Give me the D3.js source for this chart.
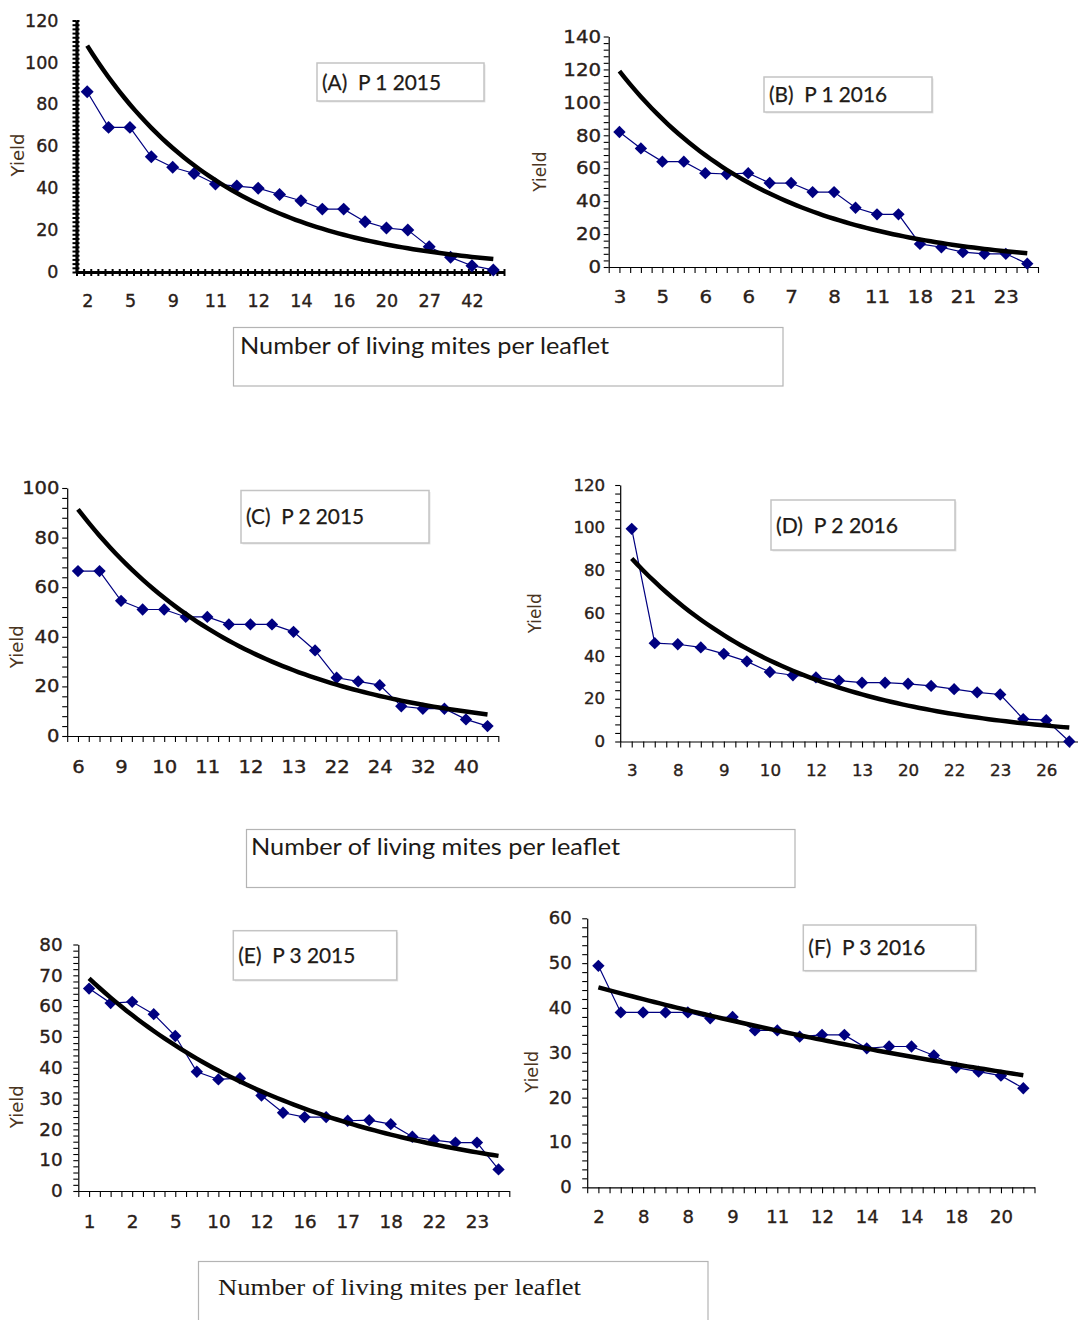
<!DOCTYPE html>
<html>
<head>
<meta charset="utf-8">
<script src="https://cdn.jsdelivr.net/npm/d3@7"></script>
<style>
  body { margin: 0; background: #fff; }
  svg { display: block; }
</style>
</head>
<body>
<div id="chart"></div>
<script>
// yield per point (left to right), shown x tick labels (every other point), trendline start/end values
var valuesA = [86, 69, 69, 55, 50, 47, 42, 41, 40, 37, 34, 30, 30, 24, 21, 20, 12, 7, 3, 1];
var labelsA = ["2", "5", "9", "11", "12", "14", "16", "20", "27", "42"];
var trendA = [108, 6.2];

var valuesB = [82, 72, 64, 64, 57, 56.5, 57, 51, 51, 45.5, 45.5, 36, 32, 32, 14, 12, 9, 8, 8, 2];
var labelsB = ["3", "5", "6", "6", "7", "8", "11", "18", "21", "23"];
var trendB = [119, 8.3];

var valuesC = [66.5, 66.5, 54.5, 51, 51, 48, 48, 45, 45, 45, 42, 34.5, 23.5, 22, 20.5, 12, 11, 11, 6.7, 4];
var labelsC = ["6", "9", "10", "11", "12", "13", "22", "24", "32", "40"];
var trendC = [91.4, 8.7];

var valuesD = [99.5, 46, 45.5, 44, 41, 37.5, 32.5, 31, 30, 28.5, 27.5, 27.5, 27, 26, 24.5, 23, 22, 10.5, 10, 0];
var labelsD = ["3", "8", "9", "10", "12", "13", "20", "22", "23", "26"];
var trendD = [85.6, 6.5];

var valuesE = [65.7, 61, 61.4, 57.4, 50.3, 38.7, 36.2, 36.6, 31, 25.4, 24, 24, 22.8, 23, 21.7, 17.6, 16.5, 15.7, 15.7, 7];
var labelsE = ["1", "2", "5", "10", "12", "16", "17", "18", "22", "23"];
var trendE = [69, 11.4];

var valuesF = [49.4, 39, 39, 39, 39, 37.7, 38, 35, 35, 33.6, 34, 34, 31, 31.4, 31.4, 29.4, 26.7, 25.8, 24.9, 22.1];
var labelsF = ["2", "8", "8", "9", "11", "12", "14", "14", "18", "20"];
var trendF = [44.6, 25];

var titles = ["(A)  P 1 2015", "(B)  P 1 2016", "(C)  P 2 2015", "(D)  P 2 2016", "(E)  P 3 2015", "(F)  P 3 2016"];
var xTitle = "Number of living mites per leaflet";

var width = 1078,
    height = 1320,
    svg = d3.select('#chart').append('svg')
      .attr('width', width)
      .attr('height', height);

svg.append('rect').attr('width', width).attr('height', height).attr('fill', '#fff');

var panels = [
  { values: valuesA, labels: labelsA, trend: trendA, title: titles[0], yMax: 120, yStep: 20, yMinor: 2,
    left: 76.5, right: 504, bottom: 272, top: 20.5, heavy: true, fs: 17.5, stretch: 1.0,
    yPad: 18, xLab: 29, yTitle: [18, 155, 43], box: [317, 63, 167, 38], boxText: 119 },
  { values: valuesB, labels: labelsB, trend: trendB, title: titles[1], yMax: 140, yStep: 20, yMinor: 4,
    left: 608.7, right: 1038, bottom: 267, top: 36.5, fs: 18, stretch: 1.1,
    yPad: 7.6, xLab: 29.7, yTitle: [540, 171.7, 40], box: [764, 77, 168, 35], boxText: 118 },
  { values: valuesC, labels: labelsC, trend: trendC, title: titles[2], yMax: 100, yStep: 20, yMinor: 4,
    left: 67.2, right: 498.3, bottom: 736, top: 488, fs: 17, stretch: 1.15,
    yPad: 7.7, xLab: 30.7, yTitle: [16.7, 646.7, 43], box: [241, 490.5, 188, 52.5], boxText: 118 },
  { values: valuesD, labels: labelsD, trend: trendD, title: titles[3], yMax: 120, yStep: 20, yMinor: 4,
    left: 620.2, right: 1080.8, bottom: 741.5, top: 485, fs: 16, stretch: 1.04,
    yPad: 15, xLab: 28.5, yTitle: [535, 613.3, 40], box: [771, 500, 184, 50], boxText: 122 },
  { values: valuesE, labels: labelsE, trend: trendE, title: titles[4], yMax: 80, yStep: 10, yMinor: 2,
    left: 78.3, right: 509.3, bottom: 1191, top: 944.5, fs: 18, stretch: 1.02,
    yPad: 15.7, xLab: 30.7, yTitle: [16.7, 1106.7, 43], box: [233.3, 930.7, 163.4, 49.3], boxText: 117 },
  { values: valuesF, labels: labelsF, trend: trendF, title: titles[5], yMax: 60, yStep: 10, yMinor: 2,
    left: 587.2, right: 1034.5, bottom: 1187.3, top: 918.3, fs: 17, stretch: 1.06,
    yPad: 15.6, xLab: 29.4, yTitle: [531.7, 1071.7, 42], box: [803.3, 925, 172.4, 45.7], boxText: 117 }
];

var textColor = '#2a2018';

function stretchText(sel, k) {
  sel.each(function() {
    var len = this.getComputedTextLength();
    d3.select(this).attr('textLength', len * k).attr('lengthAdjust', 'spacingAndGlyphs');
  });
}

function drawPanel(p) {
  var n = p.values.length;
  var x = d3.scaleLinear().domain([-0.5, n - 0.5]).range([p.left, p.right]);
  var y = d3.scaleLinear().domain([0, p.yMax]).range([p.bottom, p.top]);
  var g = svg.append('g');
  var axisW = p.heavy ? 3.2 : 1.2;

  // y axis ticks
  var yMinorTicks = d3.range(0, p.yMax + 0.001, p.yMinor);
  var gy = g.append('g').attr('transform', 'translate(' + p.left + ',0)')
    .call(d3.axisLeft(y).tickValues(yMinorTicks).tickFormat('').tickSize(p.heavy ? 4 : 5).tickSizeOuter(0));
  if (p.heavy) {
    g.append('g').attr('transform', 'translate(' + p.left + ',0)')
      .call(d3.axisRight(y).tickValues(yMinorTicks).tickFormat('').tickSize(3).tickSizeOuter(0))
      .select('.domain').remove();
  }
  g.selectAll('.tick line').attr('stroke', '#000').attr('stroke-width', p.heavy ? 1.8 : 1.1);
  gy.select('.domain').attr('stroke', '#000').attr('stroke-width', axisW);

  var yLab = g.append('g').attr('transform', 'translate(' + p.left + ',0)')
    .call(d3.axisLeft(y).tickValues(d3.range(0, p.yMax + 0.001, p.yStep)).tickSize(0).tickPadding(p.yPad));
  yLab.select('.domain').remove();
  yLab.selectAll('text')
    .attr('font-family', 'DejaVu Sans, Verdana, sans-serif')
    .attr('font-size', p.fs)
    .attr('fill', textColor)
    .attr('stroke', textColor)
    .attr('stroke-width', 0.35)
    .call(stretchText, p.stretch);

  // x axis ticks
  var xStep = p.heavy ? 1 / 3 : 0.5;
  var xTicks = d3.range(0, n / xStep + 0.5).map(function(i) { return -0.5 + i * xStep; });
  var gx = g.append('g').attr('transform', 'translate(0,' + p.bottom + ')')
    .call(d3.axisBottom(x).tickValues(xTicks).tickFormat('').tickSize(p.heavy ? 4 : 6).tickSizeOuter(0));
  if (p.heavy) {
    g.append('g').attr('transform', 'translate(0,' + p.bottom + ')')
      .call(d3.axisTop(x).tickValues(xTicks).tickFormat('').tickSize(3).tickSizeOuter(0))
      .select('.domain').remove();
  }
  g.selectAll('.tick line').attr('stroke', '#000').attr('stroke-width', p.heavy ? 2 : 1.1);
  gx.select('.domain').attr('stroke', '#000').attr('stroke-width', axisW);

  var xLab = g.append('g').attr('transform', 'translate(0,' + p.bottom + ')')
    .call(d3.axisBottom(x)
      .tickValues(p.labels.map(function(d, i) { return i * 2; }))
      .tickFormat(function(d) { return p.labels[d / 2]; })
      .tickSize(0)
      .tickPadding(p.xLab - 0.35 * p.fs));
  xLab.select('.domain').remove();
  xLab.selectAll('text')
    .attr('font-family', 'DejaVu Sans, Verdana, sans-serif')
    .attr('font-size', p.fs)
    .attr('fill', textColor)
    .attr('stroke', textColor)
    .attr('stroke-width', 0.35)
    .call(stretchText, p.stretch);

  // axis title
  g.append('text')
    .attr('transform', 'translate(' + p.yTitle[0] + ',' + p.yTitle[1] + ') rotate(-90)')
    .attr('text-anchor', 'middle')
    .attr('dy', '0.35em')
    .attr('font-family', 'DejaVu Sans, Verdana, sans-serif')
    .attr('font-size', 17)
    .attr('fill', '#4a3522')
    .attr('textLength', p.yTitle[2])
    .attr('lengthAdjust', 'spacingAndGlyphs')
    .text('Yield');

  // data line + diamonds
  var line = d3.line()
    .x(function(d, i) { return x(i); })
    .y(function(d) { return y(d); });

  g.append('path')
    .datum(p.values)
    .attr('d', line)
    .attr('fill', 'none')
    .attr('stroke', '#000080')
    .attr('stroke-width', 1.2);

  g.selectAll('.pt')
    .data(p.values)
    .enter().append('path')
    .attr('class', 'pt')
    .attr('d', d3.symbol(d3.symbolSquare, p.heavy ? 84 : 76))
    .attr('transform', function(d, i) { return 'translate(' + x(i) + ',' + y(d) + ') rotate(45)'; })
    .attr('fill', '#000080');

  // exponential trendline between the read start and end values
  var a = p.trend[0], r = p.trend[1] / p.trend[0];
  var tpts = d3.range(0, n - 1 + 0.001, 0.25);
  g.append('path')
    .datum(tpts)
    .attr('d', d3.line()
      .x(function(t) { return x(t); })
      .y(function(t) { return y(a * Math.pow(r, t / (n - 1))); }))
    .attr('fill', 'none')
    .attr('stroke', '#000')
    .attr('stroke-width', 4.5);

  // title box
  g.append('rect')
    .attr('x', p.box[0] + 1.5).attr('y', p.box[1] + 1.5)
    .attr('width', p.box[2]).attr('height', p.box[3])
    .attr('fill', '#e6e6e6');
  g.append('rect')
    .attr('x', p.box[0]).attr('y', p.box[1])
    .attr('width', p.box[2]).attr('height', p.box[3])
    .attr('fill', '#fff')
    .attr('stroke', '#c4c4c4')
    .attr('stroke-width', 1.5);
  g.append('text')
    .attr('x', p.box[0] + 5)
    .attr('y', p.box[1] + p.box[3] / 2)
    .attr('dy', '0.36em')
    .attr('font-family', 'Lato, Carlito, sans-serif')
    .attr('font-size', 21)
    .attr('fill', '#1e1a16')
    .attr('stroke', '#1e1a16')
    .attr('stroke-width', 0.25)
    .attr('textLength', p.boxText)
    .attr('lengthAdjust', 'spacingAndGlyphs')
    .style('white-space', 'pre')
    .text(p.title);
}

panels.forEach(drawPanel);

// shared x axis title boxes
var xBoxes = [
  { r: [233.5, 327.5, 549.5, 58.5], tx: 240, ty: 346, w: 369, font: 'Lato, Carlito, sans-serif', fs: 24 },
  { r: [246.5, 829.5, 548.5, 58], tx: 251, ty: 847, w: 369, font: 'Lato, Carlito, sans-serif', fs: 24 },
  { r: [198.5, 1261.5, 509.5, 80], tx: 218, ty: 1287, w: 363, font: 'Liberation Serif, Times New Roman, serif', fs: 23 }
];

xBoxes.forEach(function(b) {
  svg.append('rect')
    .attr('x', b.r[0]).attr('y', b.r[1])
    .attr('width', b.r[2]).attr('height', b.r[3])
    .attr('fill', 'none')
    .attr('stroke', '#b4b4b4')
    .attr('stroke-width', 1.2);
  svg.append('text')
    .attr('x', b.tx).attr('y', b.ty)
    .attr('dy', '0.35em')
    .attr('font-family', b.font)
    .attr('font-size', b.fs)
    .attr('fill', '#1e1a16')
    .attr('textLength', b.w)
    .attr('lengthAdjust', 'spacingAndGlyphs')
    .text(xTitle);
});
</script>
</body>
</html>
